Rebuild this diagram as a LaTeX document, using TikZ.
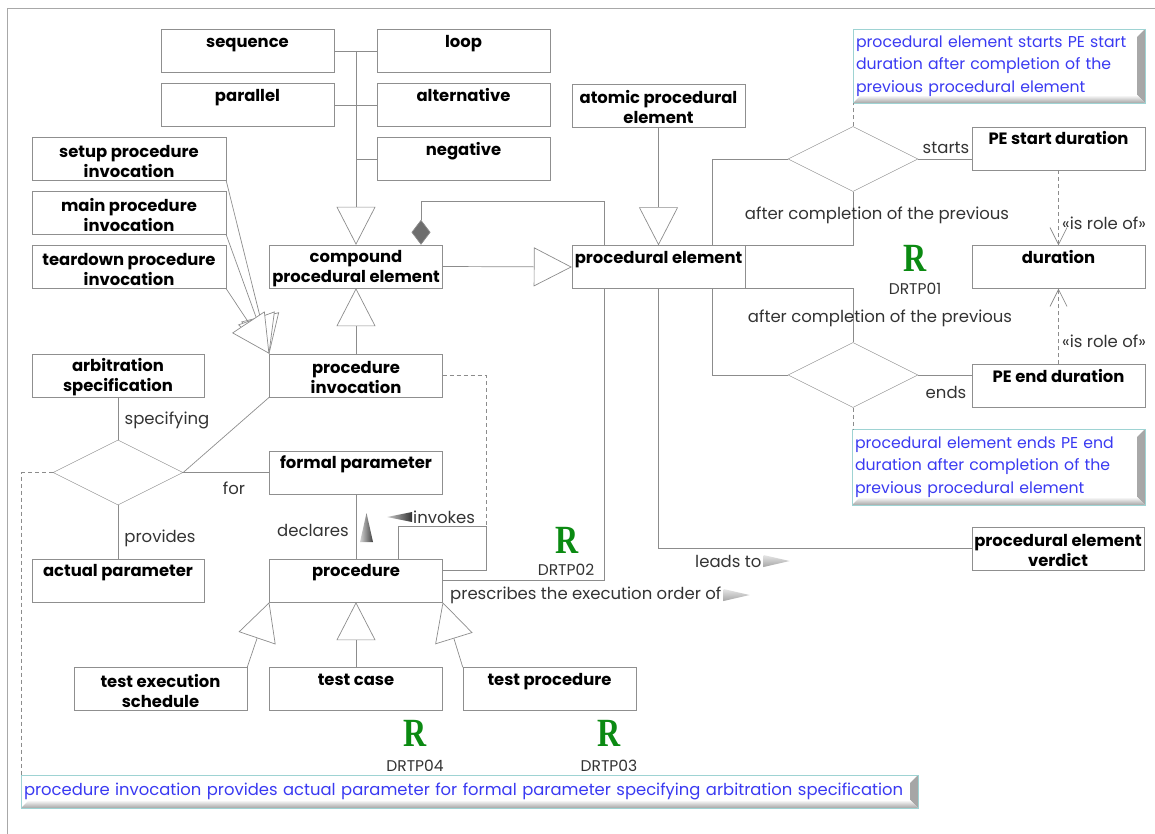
\documentclass[tikz,border=0pt]{standalone}
\usepackage{fontspec}
\setmainfont{Poppins}
\newfontfamily\rfont{Liberation Serif}
\usetikzlibrary{arrows.meta,shapes.geometric}

\definecolor{boxgray}{HTML}{8F8F8F}
\definecolor{linegray}{HTML}{8C8C8C}
\definecolor{labgray}{HTML}{333333}
\definecolor{diamgray}{HTML}{6E6E6E}
\definecolor{notetext}{HTML}{3A3AF2}
\definecolor{noteborder}{HTML}{9ED3D3}
\definecolor{rgreen}{HTML}{0B8A12}
\definecolor{framegray}{HTML}{A8A8A8}

% class box contents: two lines, the first one with a taller strut
\newcommand{\twoline}[2]{\rule{0pt}{17pt}#1\\#2}
\newcommand{\oneline}[1]{\rule{0pt}{17pt}#1\\\phantom{Ag}}

\tikzset{
  cls/.style={draw=boxgray, fill=white, minimum width=173pt, minimum height=43pt,
    inner sep=0.5pt, align=center, text=black, font=\bfseries\fontsize{16.4}{20}\selectfont},
  widecls/.style={cls, minimum width=194pt},
  narrowcls/.style={cls, minimum width=172pt},
  rel/.style={draw=boxgray, fill=white, diamond, aspect=2, minimum width=130pt,
    minimum height=65pt, inner sep=0pt},
  conn/.style={draw=linegray, line width=0.7pt},
  gen/.style={conn, -{Triangle[length=38pt,width=39pt,fill=white]}},
  agg/.style={conn, -{Diamond[length=25pt,width=19pt,fill=diamgray]}},
  dashconn/.style={conn, dash pattern=on 4pt off 3pt},
  roleof/.style={dashconn, -{Straight Barb[length=17pt,width=17pt]}},
  lab/.style={text=labgray, font=\fontsize{16.5}{19}\selectfont, inner sep=1pt},
  code/.style={text=labgray, font=\fontsize{15.5}{17}\selectfont, inner sep=0pt},
  rmark/.style={text=rgreen, font=\rfont\bfseries\fontsize{40}{40}\selectfont, inner sep=0pt},
  note/.style={draw=noteborder, fill=white, inner xsep=3pt, inner ysep=2pt, align=left,
    text=notetext, font=\fontsize{15.7}{22.5}\selectfont,
    path picture={
      \shade[left color=white, right color=gray!70]
        (path picture bounding box.north east) -- (path picture bounding box.south east)
        -- ([shift={(-8pt,8pt)}]path picture bounding box.south east)
        -- ([shift={(-8pt,-8pt)}]path picture bounding box.north east) -- cycle;
      \shade[top color=white, bottom color=gray!70]
        (path picture bounding box.south west) -- (path picture bounding box.south east)
        -- ([shift={(-8pt,8pt)}]path picture bounding box.south east)
        -- ([shift={(8pt,8pt)}]path picture bounding box.south west) -- cycle;
    }},
}

\begin{document}
\begin{tikzpicture}[x=1pt, y=-1pt]
\useasboundingbox (0,0) rectangle (1155,834);

% outer frame
\draw[framegray, line width=0.8pt] (7,834) -- (7,8) -- (1155,8);

% ---- classes ----
\node[cls] (seq)      at (247.5,51)   {\oneline{sequence}};
\node[cls] (loop)     at (463.5,51)   {\oneline{loop}};
\node[cls] (par)      at (247.5,105)  {\oneline{parallel}};
\node[cls] (alt)      at (463.5,105)  {\oneline{alternative}};
\node[cls] (neg)      at (463.5,159)  {\oneline{negative}};
\node[cls] (atomic)   at (658.5,105.5){\twoline{atomic procedural}{element}};
\node[widecls] (setup)    at (129,159)  {\twoline{setup procedure}{invocation}};
\node[widecls] (mainpi)   at (129,213)  {\twoline{main procedure}{invocation}};
\node[widecls] (teardown) at (129,267)  {\twoline{teardown procedure}{invocation}};
\node[cls] (compound) at (356,266.5)  {\twoline{compound}{procedural element}};
\node[cls] (pe)       at (658.5,267)  {\oneline{procedural element}};
\node[cls] (pestart)  at (1058.5,148.5){\oneline{PE start duration}};
\node[cls] (dur)      at (1058.5,267) {\oneline{duration}};
\node[cls] (peend)    at (1058.5,386) {\oneline{PE end duration}};
\node[narrowcls] (arb)    at (118,375.5) {\twoline{arbitration}{specification}};
\node[cls] (pinv)     at (356,375.5)  {\twoline{procedure}{invocation}};
\node[cls] (formal)   at (356,472.5)  {\oneline{formal parameter}};
\node[narrowcls] (actual) at (118,580.5) {\oneline{actual parameter}};
\node[cls] (proc)     at (356,580.5)  {\oneline{procedure}};
\node[narrowcls] (verdict) at (1058,548.5) {\twoline{procedural element}{verdict}};
\node[cls] (tes)      at (160.5,689)  {\twoline{test execution}{schedule}};
\node[cls] (tc)       at (356,689)    {\oneline{test case}};
\node[cls] (tp)       at (549.5,689)  {\oneline{test procedure}};

% ---- relation diamonds ----
\node[rel] (d1) at (853,159) {};
\node[rel] (d2) at (853,375) {};
\node[rel] (d3) at (118,472.5) {};

% ---- notes ----
\node[note, text width=286pt, minimum height=74pt] (note1) at (999,66)
  {procedural element starts PE start\\duration after completion of the\\previous procedural element};
\node[note, text width=287pt, minimum height=76pt] (note2) at (998.5,467)
  {procedural element ends PE end\\duration after completion of the\\previous procedural element};
\node[note, text width=891pt, minimum height=33pt, font=\fontsize{16.4}{18}\selectfont] (note3) at (469.5,791.5)
  {procedure invocation provides actual parameter for formal parameter specifying arbitration specification};

% ---- kinds of compound procedural element ----
\draw[conn] (seq.east) -- (loop.west);
\draw[conn] (par.east) -- (alt.west);
\draw[conn] (neg.west) -- (neg.west -| compound.north);
\draw[gen] (seq.east -| compound.north) -- (compound.north);

% ---- generalisations ----
\draw[gen] (atomic.south) -- (pe.north);
\draw[gen] (compound.east) -- (pe.west);
\draw[gen] (pinv.north) -- (compound.south);
\draw[gen] (setup.south east) -- (pinv.north west);
\draw[gen] (mainpi.south east) -- (pinv.north west);
\draw[gen] (teardown.south east) -- (pinv.north west);
\draw[gen] (tc.north) -- (proc.south);
\draw[gen] (tes.north east) -- (proc.south west);
\draw[gen] (tp.north west) -- (proc.south east);

% ---- composition of procedural elements ----
\draw[agg] ([xshift=-54.5pt]pe.north) -- ++(0,-44) -| ([xshift=65pt]compound.north);

% ---- procedure relations ----
\draw[conn] (formal.south) -- (proc.north);
\draw[conn] (proc.east) -| ([xshift=-54.5pt]pe.south);
\draw[conn] ([xshift=42pt]proc.north) -- ++(0,-32) -- ++(88,0) coordinate (invk)
  |- ([yshift=10.5pt]proc.east);
\draw[dashconn] (pinv.east) -| (invk);

% ---- n-ary relation ----
\draw[conn] (arb.south) -- (d3.north);
\draw[conn] (d3.south) -- (actual.north);
\draw[conn] (d3.east) -- (formal.west);
\draw[conn] (d3.east) -- (pinv.south west);
\draw[dashconn] (d3.west) -| ([xshift=1pt]note3.north west);

% ---- start / end relations ----
\draw[conn] ([xshift=53.5pt]pe.north) |- (d1.west);
\draw[conn] (d1.south) |- (pe.north east);
\draw[conn] (d1.east) -- (d1.east -| pestart.west);
\draw[conn] ([xshift=53.5pt]pe.south) |- (d2.west);
\draw[conn] (d2.north) |- (pe.south east);
\draw[conn] (d2.east) -- (d2.east -| peend.west);
\draw[dashconn] (d1.north) -- (d1.north |- note1.south);
\draw[dashconn] (d2.south) -- (d2.south |- note2.north);
\draw[roleof] (pestart.south) -- (dur.north);
\draw[roleof] (peend.north) -- (dur.south);

% verdict
\draw[conn] (pe.south) |- (verdict.west);

% ---- labels ----
\node[lab] at (946,148) {starts};
\node[lab] at (946,392) {ends};
\node[lab] at (877,215) {after completion of the previous};
\node[lab] at (880,318) {after completion of the previous};
\node[lab] at (1104,223) {«is role of»};
\node[lab] at (1104,341) {«is role of»};
\node[lab] at (167,420) {specifying};
\node[lab] at (160,538) {provides};
\node[lab] at (234,488) {for};
\node[lab, anchor=east] (declab) at (350,530) {declares};
\node[lab, anchor=west] (invlab) at (412,517) {invokes};
\node[lab, anchor=west] (leadlab) at (694,561) {leads to};
\node[lab, anchor=west] (preslab) at (449,595) {prescribes the execution order of};

% direction markers
\shade[left color=gray!35, right color=black!75]
  ([xshift=10pt,yshift=-12pt]declab.east) -- ([xshift=16.5pt,yshift=17pt]declab.east)
  -- ([xshift=23pt,yshift=-12pt]declab.east) -- cycle;
\shade[left color=gray!40, right color=black!80]
  ([xshift=-25pt]invlab.west) -- ([yshift=5pt]invlab.west) -- ([yshift=-5pt]invlab.west) -- cycle;
\shade[top color=gray!20, bottom color=gray!70]
  ([xshift=1pt,yshift=6pt]leadlab.east) -- ([xshift=27pt]leadlab.east)
  -- ([xshift=1pt,yshift=-6pt]leadlab.east) -- cycle;
\shade[top color=gray!20, bottom color=gray!70]
  ([xshift=1pt,yshift=6pt]preslab.east) -- ([xshift=27pt]preslab.east)
  -- ([xshift=1pt,yshift=-6pt]preslab.east) -- cycle;

% ---- rule markers ----
\node[rmark] at (915,258) {\scalebox{0.8}[1]{R}};
\node[code]  at (915,289) {DRTP01};
\node[rmark] at (567,540) {\scalebox{0.8}[1]{R}};
\node[code]  at (566,570) {DRTP02};
\node[rmark] at (415,733) {\scalebox{0.8}[1]{R}};
\node[code]  at (415,766) {DRTP04};
\node[rmark] at (609,733) {\scalebox{0.8}[1]{R}};
\node[code]  at (609,766) {DRTP03};
\end{tikzpicture}
\end{document}
